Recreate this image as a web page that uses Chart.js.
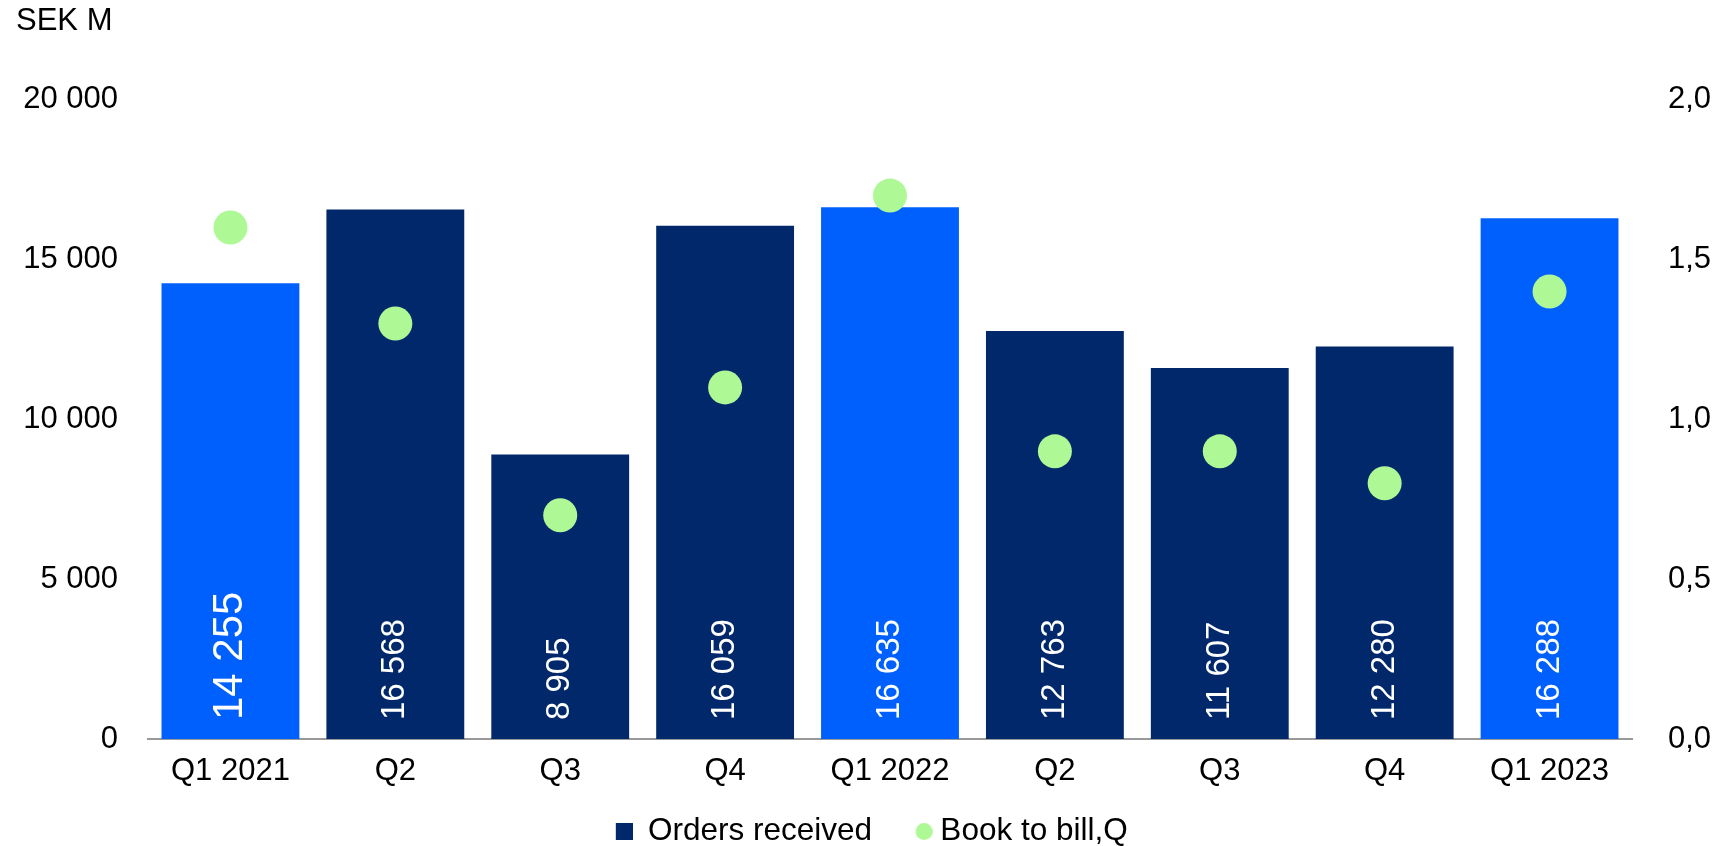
<!DOCTYPE html>
<html>
<head>
<meta charset="utf-8">
<script src="https://cdn.jsdelivr.net/npm/chart.js@4"></script>
<style>
  html, body { margin: 0; padding: 0; background: #fff; }
  #wrap { width: 1721px; height: 846px; }
</style>
</head>
<body>
<div id="wrap"><canvas id="chart"></canvas></div>
<script>
// Quarterly order intake (SEK M) and book-to-bill ratio
const categories = ['Q1 2021', 'Q2', 'Q3', 'Q4', 'Q1 2022', 'Q2', 'Q3', 'Q4', 'Q1 2023'];
const ordersReceived = [14255, 16568, 8905, 16059, 16635, 12763, 11607, 12280, 16288];
const bookToBill = [1.6, 1.3, 0.7, 1.1, 1.7, 0.9, 0.9, 0.8, 1.4];
const leftTicks = [0, 5000, 10000, 15000, 20000];
const rightTicks = [0, 0.5, 1.0, 1.5, 2.0];

const FONT = '"Liberation Sans", Arial, sans-serif';
const NAVY = '#00286A';
const BRIGHT = '#0060FE';
const GREEN = '#AFF896';

// First quarter of each year is shown in the bright colour
const barColors = categories.map(c => c.startsWith('Q1') ? BRIGHT : NAVY);

const fmtThousands = v => String(Math.round(v)).replace(/\B(?=(\d{3})+(?!\d))/g, ' ');
const fmtDecimal = v => v.toFixed(1).replace('.', ',');

// Legend markers (drawn at the right-hand end of their little canvases)
function makeMarker(w, h, draw) {
  const c = document.createElement('canvas');
  c.width = w; c.height = h;
  draw(c.getContext('2d'));
  return c;
}
const squareMark = makeMarker(42, 17, ctx => { ctx.fillStyle = NAVY; ctx.fillRect(25, 0, 17, 17); });
const dotMark = makeMarker(57, 17, ctx => {
  ctx.fillStyle = GREEN; ctx.beginPath(); ctx.arc(48.5, 8.5, 8.5, 0, Math.PI * 2); ctx.fill();
});

// Vertical value labels inside the bars
const barValueLabels = {
  id: 'barValueLabels',
  afterDatasetsDraw(chart) {
    const meta = chart.getDatasetMeta(0);
    const ctx = chart.ctx;
    ctx.save();
    ctx.fillStyle = '#ffffff';
    ctx.textAlign = 'left';
    ctx.textBaseline = 'middle';
    meta.data.forEach((bar, i) => {
      const size = i === 0 ? 42 : 33;
      ctx.font = size + 'px ' + FONT;
      ctx.save();
      ctx.translate(bar.x, bar.base - 19);
      ctx.rotate(-Math.PI / 2);
      ctx.fillText(fmtThousands(ordersReceived[i]), 0, 0);
      ctx.restore();
    });
    ctx.restore();
  }
};

// Legend row sits slightly left of the canvas centre
const legendNudge = {
  id: 'legendNudge',
  afterLayout(chart) {
    if (chart.legend) { chart.legend.left -= 9; chart.legend.right -= 9; }
  }
};

new Chart(document.getElementById('chart'), {
  data: {
    labels: categories,
    datasets: [
      {
        type: 'bar',
        label: 'Orders received',
        data: ordersReceived,
        backgroundColor: barColors,
        borderWidth: 0,
        barPercentage: 0.836,
        categoryPercentage: 1.0,
        yAxisID: 'y',
        order: 2
      },
      {
        type: 'line',
        label: 'Book to bill,Q',
        data: bookToBill,
        showLine: false,
        pointRadius: 17,
        pointHoverRadius: 17,
        pointBorderWidth: 0,
        pointBackgroundColor: GREEN,
        borderColor: GREEN,
        backgroundColor: GREEN,
        yAxisID: 'y1',
        order: 1
      }
    ]
  },
  options: {
    responsive: true,
    maintainAspectRatio: false,
    animation: false,
    events: [],
    layout: { padding: { left: 16, right: 0, top: 0, bottom: -11.25 } },
    scales: {
      x: {
        grid: { display: false, drawTicks: false },
        border: { display: true, color: '#999999', width: 2 },
        ticks: { color: '#000', font: { family: FONT, size: 31 }, padding: 14, maxRotation: 0, autoSkip: false }
      },
      y: {
        position: 'left',
        min: 0, max: 20000,
        grid: { display: false, drawTicks: false },
        border: { display: false },
        afterBuildTicks: s => { s.ticks = leftTicks.map(v => ({ value: v })); },
        afterFit: s => { s.width = 132; },
        ticks: { color: '#000', font: { family: FONT, size: 31 }, padding: 30, callback: v => fmtThousands(v) }
      },
      y1: {
        position: 'right',
        min: 0, max: 2,
        grid: { display: false, drawTicks: false },
        border: { display: false },
        afterBuildTicks: s => { s.ticks = rightTicks.map(v => ({ value: v })); },
        afterFit: s => { s.width = 89; },
        ticks: { color: '#000', font: { family: FONT, size: 31 }, padding: 36, callback: v => fmtDecimal(v) }
      }
    },
    plugins: {
      title: {
        display: true,
        text: 'SEK M',
        align: 'start',
        color: '#000',
        font: { family: FONT, size: 31, weight: 'normal' },
        padding: { top: 3, bottom: 59.5 }
      },
      legend: {
        position: 'bottom',
        labels: {
          usePointStyle: true,
          pointStyleWidth: 41,
          boxHeight: 16,
          padding: 11.5,
          color: '#000',
          font: { family: FONT, size: 31.5 },
          sort: (a, b) => a.datasetIndex - b.datasetIndex,
          generateLabels(chart) {
            const items = Chart.defaults.plugins.legend.labels.generateLabels(chart);
            items.forEach(it => { it.pointStyle = it.datasetIndex === 0 ? squareMark : dotMark; });
            return items;
          }
        }
      },
      tooltip: { enabled: false }
    }
  },
  plugins: [barValueLabels, legendNudge]
});
</script>
</body>
</html>
